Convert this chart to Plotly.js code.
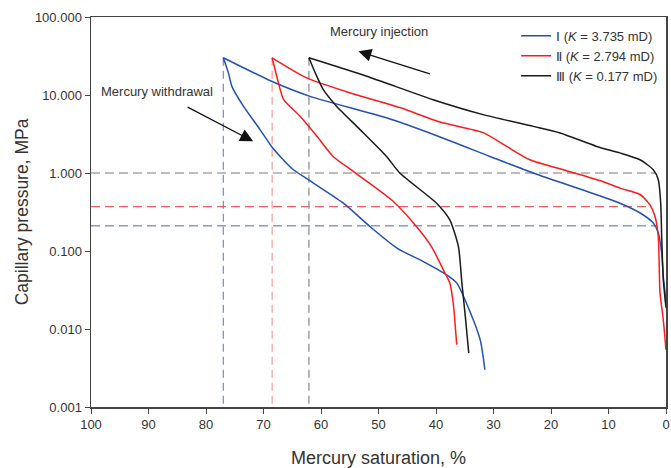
<!DOCTYPE html>
<html>
<head>
<meta charset="utf-8">
<script src="https://cdn.plot.ly/plotly-3.0.1.min.js"></script>
<style>html,body{margin:0;padding:0;background:#fff;}#chart{width:671px;height:468px;}</style>
</head>
<body>
<div id="chart"></div>
<script>
// Series names
const seriesNames = ['Ⅰ (<i>K</i> = 3.735 mD)', 'Ⅱ (<i>K</i> = 2.794 mD)', 'Ⅲ (<i>K</i> = 0.177 mD)'];

// Mercury injection curves (saturation %, capillary pressure MPa)
const injISat = [77.0, 68.6, 61.9, 48.6, 39.3, 30.6, 23.1, 11.5, 8.0, 4.5, 2.2, 1.34, 0.75, 0.47, 0.17, 0];
const injIP   = [30, 15.0, 9.6, 5.1, 2.9, 1.63, 1.0, 0.51, 0.41, 0.307, 0.228, 0.170, 0.094, 0.047, 0.029, 0.020];
const injIISat = [68.5, 62.5, 55.0, 46.3, 39.3, 31.8, 27.7, 23.7, 17.3, 11.5, 8.0, 4.5, 2.78, 1.91, 1.34, 1.04, 0.47, 0];
const injIIP   = [30, 16.6, 10.7, 6.9, 4.5, 3.29, 2.19, 1.48, 1.07, 0.80, 0.64, 0.53, 0.39, 0.277, 0.153, 0.029, 0.0131, 0.0054];
const injIIISat = [62.1, 52.05, 40.5, 31.8, 23.1, 18.4, 12.05, 8.0, 4.52, 2.21, 1.34, 0.92, 0.75, 0.47, 0];
const injIIIP   = [30, 17.4, 8.7, 5.6, 3.96, 3.26, 2.19, 1.81, 1.48, 1.10, 0.82, 0.41, 0.153, 0.043, 0.0187];

// Mercury withdrawal curves
const wdrISat = [77.0, 76.1, 75.5, 73.5, 70.6, 68.6, 67.1, 64.8, 62.2, 56.1, 51.5, 46.8, 42.2, 38.1, 36.4, 34.7, 32.3, 31.5];
const wdrIP   = [30, 19.2, 12.9, 7.2, 3.6, 2.19, 1.63, 1.10, 0.82, 0.41, 0.206, 0.109, 0.073, 0.049, 0.039, 0.0214, 0.0072, 0.0030];
const wdrIISat = [68.5, 68.0, 67.4, 66.5, 63.6, 60.7, 57.9, 54.4, 47.7, 43.4, 40.8, 38.7, 37.6, 37.0, 36.4];
const wdrIIP   = [30, 21.2, 14.3, 8.7, 5.3, 2.95, 1.63, 1.05, 0.45, 0.206, 0.114, 0.057, 0.039, 0.0214, 0.0063];
const wdrIIISat = [62.1, 61.0, 59.6, 57.3, 53.2, 48.6, 46.3, 39.9, 37.6, 36.1, 35.5, 34.9, 34.3];
const wdrIIIP   = [30, 19.2, 11.7, 7.2, 3.6, 1.63, 1.0, 0.41, 0.25, 0.114, 0.039, 0.0144, 0.0049];

// Reference (dashed) levels
const maxSat = [77.0, 68.5, 62.1];        // saturation at maximum pressure
const maxP = 30;                           // maximum injection pressure
const thresholdP = [0.21, 0.37, 1.0];      // threshold pressures
const thresholdEndSat = [1.6, 2.7, 1.9];   // where threshold lines meet curves
const axisMinP = 0.001, axisMaxSat = 100;

// Axis ticks
const yTickVals = [0.001, 0.01, 0.1, 1, 10, 100];
const yTickText = ['0.001', '0.010', '0.100', '1.000', '10.000', '100.000'];
const xTickVals = [100, 90, 80, 70, 60, 50, 40, 30, 20, 10, 0];

const colors = ['#2250b4', '#ff1a1a', '#1a1a1a'];
const vColors = ['#5570cc', '#f28a80', '#999999'];
const vWidths = [1, 1, 1.4];
const hColors = ['#4a66c4', '#f03a3a', '#7a7a7a'];

const injSat = [injISat, injIISat, injIIISat];
const injP = [injIP, injIIP, injIIIP];
const wdrSat = [wdrISat, wdrIISat, wdrIIISat];
const wdrP = [wdrIP, wdrIIP, wdrIIIP];

const traces = [];
for (let i = 0; i < 3; i++) {
  traces.push({x: [maxSat[i], maxSat[i]], y: [maxP, axisMinP], mode: 'lines', showlegend: false, hoverinfo: 'skip',
    line: {color: vColors[i], width: vWidths[i], dash: '8px,5px'}});
  traces.push({x: [axisMaxSat, thresholdEndSat[i]], y: [thresholdP[i], thresholdP[i]], mode: 'lines', showlegend: false, hoverinfo: 'skip',
    line: {color: hColors[i], width: 1, dash: '9px,5px'}});
}
for (let i = 0; i < 3; i++) {
  traces.push({x: injSat[i], y: injP[i], mode: 'lines', name: seriesNames[i], legendgroup: 'g' + i,
    line: {color: colors[i], width: 1.5, shape: 'spline', smoothing: 0.6}});
  traces.push({x: wdrSat[i], y: wdrP[i], mode: 'lines', showlegend: false, legendgroup: 'g' + i,
    line: {color: colors[i], width: 1.5, shape: 'spline', smoothing: 0.6}});
}

const fam = '"Liberation Sans", Arial, sans-serif';
const layout = {
  width: 671, height: 468,
  margin: {l: 91, r: 5, t: 17, b: 61},
  paper_bgcolor: '#fff', plot_bgcolor: '#fff',
  font: {family: fam, color: '#333', size: 13},
  showlegend: true,
  legend: {x: 0.995, y: 0.99, xanchor: 'right', yanchor: 'top', bgcolor: 'rgba(0,0,0,0)',
    font: {family: fam, size: 13, color: '#333'}, tracegroupgap: 0},
  xaxis: {
    range: [100, 0], autorange: false,
    tickmode: 'array', tickvals: xTickVals,
    ticks: 'outside', ticklen: 5, tickwidth: 1, tickcolor: '#444',
    showline: true, linecolor: '#444', linewidth: 1.5, mirror: true,
    showgrid: false, zeroline: false,
    tickfont: {size: 13, color: '#333'},
    title: {text: 'Mercury saturation, %', font: {size: 18, color: '#333'}, standoff: 20}
  },
  yaxis: {
    type: 'log', range: [-3, 2], autorange: false,
    tickmode: 'array', tickvals: yTickVals, ticktext: yTickText,
    ticks: 'outside', ticklen: 5, tickwidth: 1, tickcolor: '#444',
    showline: true, linecolor: '#444', linewidth: 1.5, mirror: true,
    showgrid: false, zeroline: false,
    tickfont: {size: 13, color: '#333'},
    title: {text: 'Capillary pressure, MPa', font: {size: 17.5, color: '#333'}, standoff: 2}
  },
  annotations: [
    {xref: 'x', yref: 'y', x: 50.0, y: 1.818, text: 'Mercury injection', showarrow: false,
     font: {size: 13, color: '#333'}},
    {xref: 'x', yref: 'y', x: 88.6, y: 1.04, text: 'Mercury withdrawal', showarrow: false,
     font: {size: 13, color: '#333'}},
    {xref: 'x', yref: 'y', x: 53.5, y: 1.561, axref: 'pixel', ayref: 'pixel', ax: 73, ay: 23,
     text: '', showarrow: true, arrowhead: 2, arrowsize: 2, arrowwidth: 1.3, arrowcolor: '#111'},
    {xref: 'x', yref: 'y', x: 71.8, y: 0.406, axref: 'pixel', ayref: 'pixel', ax: -67, ay: -35,
     text: '', showarrow: true, arrowhead: 2, arrowsize: 2, arrowwidth: 1.3, arrowcolor: '#111'}
  ]
};

Plotly.newPlot('chart', traces, layout, {displayModeBar: false, staticPlot: true});
</script>
</body>
</html>
